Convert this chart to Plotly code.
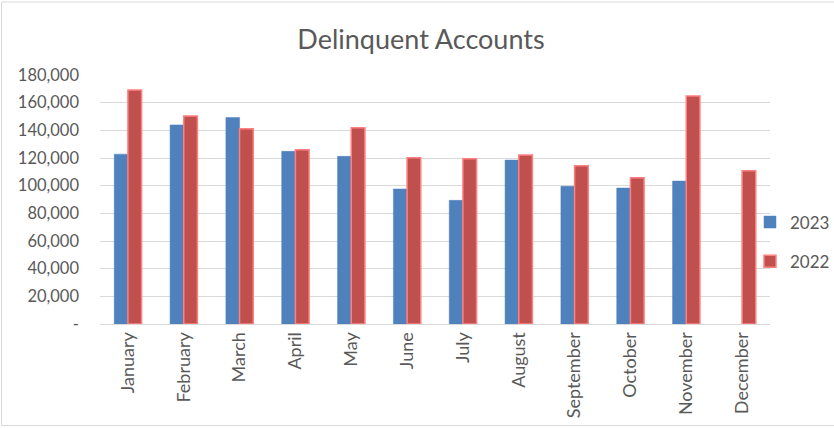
import plotly.graph_objects as go

months = ["January", "February", "March", "April", "May", "June", "July",
          "August", "September", "October", "November", "December"]
values_2023 = [122800, 143900, 149300, 124800, 121200, 97600, 89400,
               118500, 99500, 98300, 103300, None]
values_2022 = [169200, 150400, 141100, 125900, 141800, 120100, 119400,
               122100, 114400, 105700, 164900, 110800]
y_ticks = [0, 20000, 40000, 60000, 80000, 100000, 120000, 140000, 160000, 180000]
y_tick_labels = ["-", "20,000", "40,000", "60,000", "80,000", "100,000",
                 "120,000", "140,000", "160,000", "180,000"]

FONT = "Lato, 'Open Sans', sans-serif"
W, H = 834, 428
ML, MR, MT, MB = 100, 64, 75, 104
PW, PH = W - ML - MR, H - MT - MB

fig = go.Figure()
fig.add_trace(go.Bar(x=months, y=values_2023, name="2023",
                     marker=dict(color="#4F81BD", line=dict(color="#4F81BD", width=0.5)),
                     legendgroup="a"))
fig.add_trace(go.Bar(x=months, y=values_2022, name="2022",
                     marker=dict(color="#C0504D", line=dict(color="#FF8080", width=1.5)),
                     legendgroup="b"))

fig.update_layout(
    width=W, height=H,
    margin=dict(l=ML, r=MR, t=MT, b=MB, autoexpand=False),
    paper_bgcolor="white", plot_bgcolor="white",
    barmode="group", bargap=0.51, bargroupgap=0,
    title=dict(text="Delinquent Accounts", x=(421 - ML) / PW, xref="paper", xanchor="center",
               y=1 - 40 / H, yanchor="middle",
               font=dict(family=FONT, size=27, color="#595959")),
    font=dict(family=FONT, color="#595959", size=14),
    legend=dict(x=(750 - ML) / PW, xanchor="left", y=(324 - 242) / PH, yanchor="middle",
                font=dict(size=17, color="#595959"), tracegroupgap=14,
                itemwidth=30, bgcolor="rgba(0,0,0,0)"),
    xaxis=dict(tickangle=-90, showgrid=False, showline=True, linecolor="#D9D9D9",
               linewidth=1, ticks="", automargin=False,
               tickfont=dict(size=18, color="#595959")),
    yaxis=dict(range=[0, 180000], tickvals=y_ticks, ticktext=y_tick_labels,
               showgrid=True, gridcolor="#D9D9D9", gridwidth=1, zeroline=False,
               showline=False, ticks="", ticklabelstandoff=20, automargin=False,
               tickfont=dict(size=16.5, color="#595959")),
    shapes=[dict(type="rect", xref="paper", yref="paper",
                 x0=-(ML - 1.5) / PW, x1=1 + (MR + 10) / PW,
                 y0=-(MB - 2.5) / PH, y1=1 + (MT - 2) / PH,
                 line=dict(color="#D9D9D9", width=1), fillcolor="rgba(0,0,0,0)")],
)

fig.write_html("out.html", config={"displayModeBar": False},
               post_script="document.body.style.margin='0';")
